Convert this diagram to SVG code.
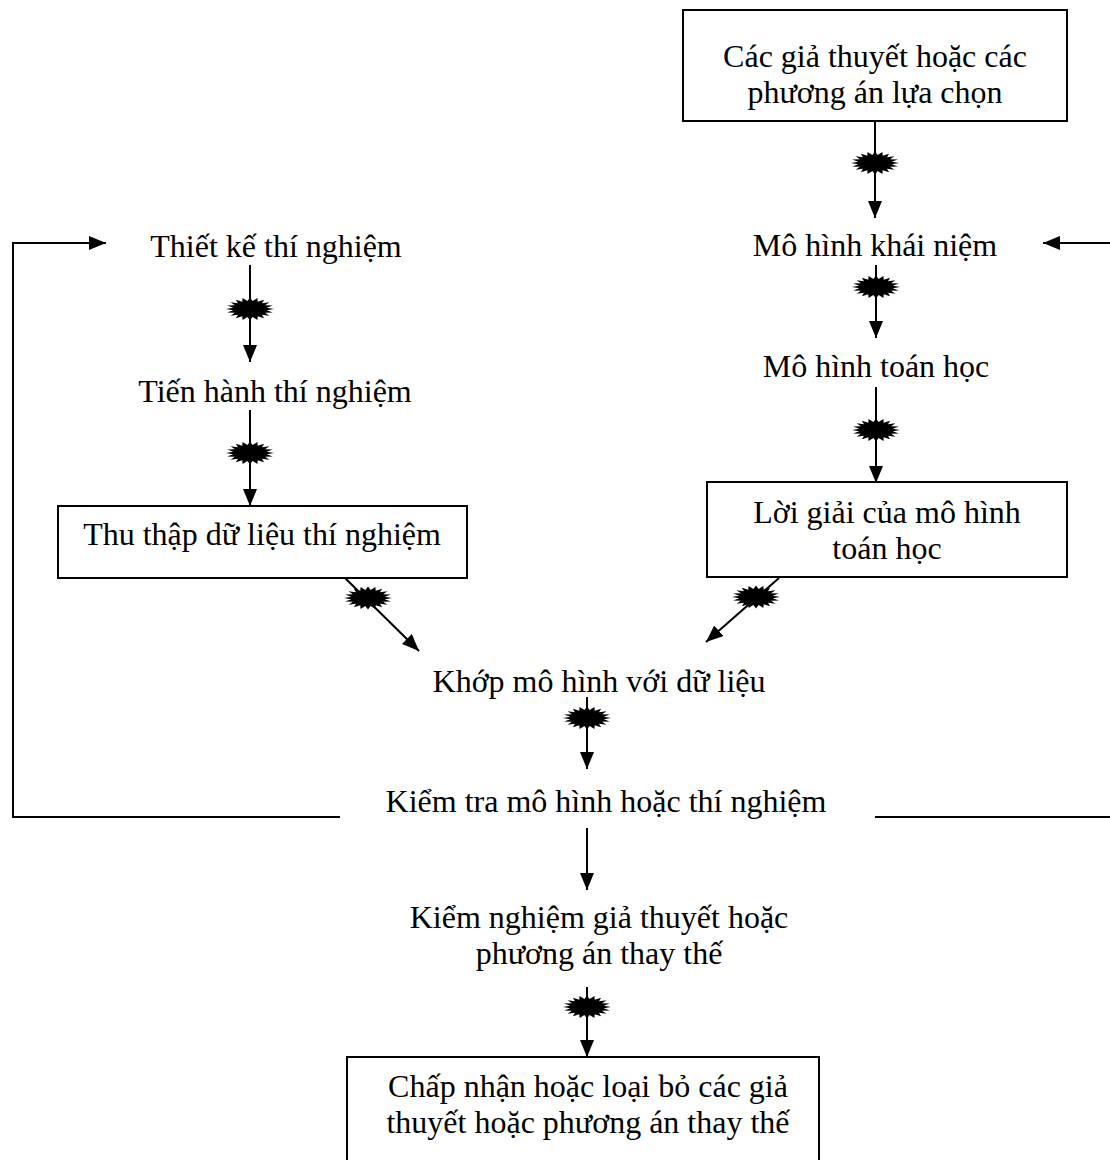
<svg xmlns="http://www.w3.org/2000/svg" xmlns:xlink="http://www.w3.org/1999/xlink" width="1110" height="1160" viewBox="0 0 1110 1160">
<style>
text{font-family:"Liberation Serif","Times New Roman",serif;font-size:32px;fill:#000;text-anchor:middle}
.box{fill:#fff;stroke:#000;stroke-width:2}
.ln{fill:none;stroke:#000;stroke-width:2}
.arr{marker-end:url(#ah)}
</style>
<defs>
<marker id="ah" markerWidth="17" markerHeight="14" refX="17" refY="7" orient="auto" markerUnits="userSpaceOnUse" viewBox="0 0 17 14">
<path d="M0,0 L17,7 L0,14 Z" fill="#000"/>
</marker>
<polygon id="star" fill="#000" points="24,0 16.8,1.25 22.82,3.55 15.15,3.63 19.42,6.76 12.02,5.66 14.11,9.3 7.72,7.13 7.42,10.94 2.65,7.9 0,11.5 -2.65,7.9 -7.42,10.94 -7.72,7.13 -14.11,9.3 -12.02,5.66 -19.42,6.76 -15.15,3.63 -22.82,3.55 -16.8,1.25 -24,0 -16.8,-1.25 -22.82,-3.55 -15.15,-3.63 -19.42,-6.76 -12.02,-5.66 -14.11,-9.3 -7.72,-7.13 -7.42,-10.94 -2.65,-7.9 0,-11.5 2.65,-7.9 7.42,-10.94 7.72,-7.13 14.11,-9.3 12.02,-5.66 19.42,-6.76 15.15,-3.63 22.82,-3.55 16.8,-1.25"/>
</defs>
<rect width="1110" height="1160" fill="#fff"/>
<g id="connectors">
<line class="ln arr" x1="875" y1="121" x2="875" y2="218"/>
<use xlink:href="#star" x="875" y="163"/>
<line class="ln arr" x1="876" y1="265" x2="876" y2="338"/>
<use xlink:href="#star" x="876" y="287"/>
<line class="ln arr" x1="876" y1="387" x2="876" y2="483"/>
<use xlink:href="#star" x="876" y="430"/>
<line class="ln arr" x1="250" y1="265" x2="250" y2="362"/>
<use xlink:href="#star" x="250" y="309"/>
<line class="ln arr" x1="250" y1="410" x2="250" y2="506"/>
<use xlink:href="#star" x="250" y="453"/>
<line class="ln arr" x1="345" y1="578" x2="419" y2="651"/>
<use xlink:href="#star" x="368" y="598"/>
<line class="ln arr" x1="779" y1="578" x2="706" y2="642"/>
<use xlink:href="#star" x="756" y="597"/>
<line class="ln arr" x1="587" y1="697" x2="587" y2="769"/>
<use xlink:href="#star" x="587" y="718"/>
<line class="ln arr" x1="587" y1="828" x2="587" y2="890"/>
<line class="ln arr" x1="587" y1="987" x2="587" y2="1057"/>
<use xlink:href="#star" x="587" y="1007"/>
<polyline class="ln arr" points="340,817 13,817 13,243 106,243"/>
<polyline class="ln arr" points="875,817 1111,817 1111,243 1043,243"/>
</g>
<g id="n1"><rect class="box" x="683" y="10" width="384" height="111"/><text x="875" y="67">Các giả thuyết hoặc các</text><text x="875" y="103">phương án lựa chọn</text></g>
<g id="n2"><text x="875" y="256">Mô hình khái niệm</text></g>
<g id="n3"><text x="876" y="377">Mô hình toán học</text></g>
<g id="n4"><rect class="box" x="707" y="482" width="360" height="95"/><text x="887" y="523">Lời giải của mô hình</text><text x="887" y="559">toán học</text></g>
<g id="n5"><text x="276" y="257">Thiết kế thí nghiệm</text></g>
<g id="n6"><text x="275" y="402">Tiến hành thí nghiệm</text></g>
<g id="n7"><rect class="box" x="58" y="506" width="409" height="72"/><text x="262" y="545">Thu thập dữ liệu thí nghiệm</text></g>
<g id="n8"><text x="599" y="692">Khớp mô hình với dữ liệu</text></g>
<g id="n9"><text x="606" y="812">Kiểm tra mô hình hoặc thí nghiệm</text></g>
<g id="n10"><text x="599" y="928">Kiểm nghiệm giả thuyết hoặc</text><text x="599" y="964">phương án thay thế</text></g>
<g id="n11"><rect class="box" x="347" y="1057" width="472" height="120"/><text x="588" y="1097">Chấp nhận hoặc loại bỏ các giả</text><text x="588" y="1133">thuyết hoặc phương án thay thế</text></g>
</svg>
